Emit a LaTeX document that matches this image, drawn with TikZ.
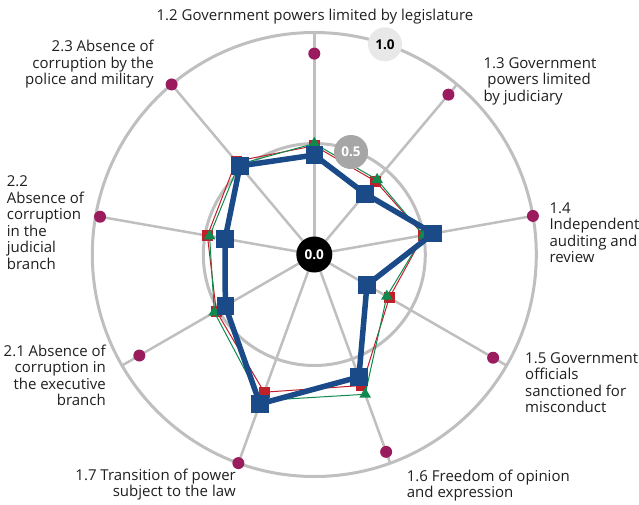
\documentclass[tikz,border=0pt]{standalone}
\usepackage{fontspec}
\setmainfont{Open Sans}
\usetikzlibrary{shapes.geometric}
\definecolor{gridc}{HTML}{BFBFBF}
\definecolor{dotc}{HTML}{9B1B5F}
\definecolor{blues}{HTML}{1A4A87}
\definecolor{reds}{HTML}{C11F2A}
\definecolor{greens}{HTML}{0F8A4F}
\definecolor{txt}{HTML}{1F1F1F}
\definecolor{midc}{HTML}{A6A6A6}
\definecolor{lightc}{HTML}{E8E8E8}
\newcommand{\lblfont}{\fontsize{15}{16.5}\selectfont}
\begin{document}
\begin{tikzpicture}[x=1pt,y=1pt,
  ringline/.style={draw=gridc, line width=3pt},
  gridline/.style={draw=gridc, line width=2.5pt},
  dotn/.style={circle, fill=dotc, inner sep=0pt, minimum size=12pt},
  bsq/.style={rectangle, fill=blues, inner sep=0pt, minimum size=17.5pt},
  rsq/.style={rectangle, fill=reds, inner sep=0pt, minimum size=11pt},
  gtri/.style={regular polygon, regular polygon sides=3, fill=greens, inner sep=0pt, minimum size=13.5pt},
  bline/.style={draw=blues, line width=5.5pt, line join=round},
  rline/.style={draw=reds, line width=1pt},
  gline/.style={draw=greens, line width=1pt},
  lblL/.style={anchor=base west, inner sep=0pt, text=txt, font=\lblfont},
  lblR/.style={anchor=base east, inner sep=0pt, text=txt, font=\lblfont},
  valc/.style={circle, inner sep=0pt, minimum size=34pt, font=\fontsize{13.5}{13.5}\selectfont\bfseries}
]
\useasboundingbox (0,-504) rectangle (639,0);
\coordinate (O) at (314.3,-254.5);
% rings
\draw[ringline] (O) circle[radius=222];
\draw[ringline] (O) circle[radius=111];
% axes
\foreach \a [count=\i] in {90,50,10,-30,-70,-110,-150,170,130} {
  \coordinate (e\i) at ([shift={(\a:222)}]O);
}
\foreach \i in {1,...,9} { \draw[gridline] (O) -- (e\i); }
% purple dots
\foreach \a/\v [count=\i] in {90/0.905,50/0.94,10/1.0,-30/0.93,-70/0.946,-110/1.0,-150/0.91,170/0.98,130/1.0} {
  \node[dotn] (d\i) at ([shift={(\a:{222*\v})}]O) {};
}
% series coordinates
\foreach \a/\r/\g/\b [count=\i] in {
  90/0.49/0.50/0.448,
  50/0.43/0.44/0.357,
  10/0.50/0.50/0.544,
  -30/0.39/0.377/0.274,
  -70/0.628/0.67/0.587,
  -110/0.66/0.70/0.716,
  -150/0.51/0.52/0.463,
  170/0.489/0.479/0.408,
  130/0.548/0.53/0.521} {
  \coordinate (r\i) at ([shift={(\a:{222*\r})}]O);
  \coordinate (g\i) at ([shift={(\a:{222*\g})}]O);
  \coordinate (b\i) at ([shift={(\a:{222*\b})}]O);
}
% red series
\draw[rline] (r1) -- (r2) -- (r3) -- (r4) -- (r5) -- (r6) -- (r7) -- (r8) -- (r9) -- cycle;
\foreach \i in {1,...,9} { \node[rsq] (rm\i) at (r\i) {}; }
% green series
\draw[gline] (g1) -- (g2) -- (g3) -- (g4) -- (g5) -- (g6) -- (g7) -- (g8) -- (g9) -- cycle;
\foreach \i in {1,...,9} { \node[gtri] (gm\i) at (g\i) {}; }
% blue series
\draw[bline] (b1) -- (b2) -- (b3) -- (b4) -- (b5) -- (b6) -- (b7) -- (b8) -- (b9) -- cycle;
\foreach \i in {1,...,9} { \node[bsq] (bm\i) at (b\i) {}; }
% value markers
\node[valc, fill=black, text=white, minimum size=36pt] (v0) at (O) {0.0};
\node[valc, fill=midc, text=white] (v05) at (351,-152) {0.5};
\node[valc, fill=lightc, text=black] (v1) at (385,-44.3) {1.0};
% labels
\node[anchor=base, inner sep=0pt, text=txt, font=\lblfont] (l12) at (315,-20.5) {1.2 Government powers limited by legislature};
\node[lblL] (l13) at (483.3,-68.3) {\begin{tabular}[t]{@{}l@{}}1.3 Government\\ \ powers limited\\ by judiciary\end{tabular}};
\node[lblL] (l14) at (549.3,-213.3) {\begin{tabular}[t]{@{}l@{}}1.4\\ Independent\\ auditing and\\ review\end{tabular}};
\node[lblL] (l15) at (525,-363.3) {\begin{tabular}[t]{@{}l@{}}1.5 Government\\ officials\\ sanctioned for\\ misconduct\end{tabular}};
\node[lblL] (l16) at (406.7,-481) {\begin{tabular}[t]{@{}l@{}}1.6 Freedom of opinion\\ and expression\end{tabular}};
\node[lblR] (l17) at (236,-480) {\begin{tabular}[t]{@{}r@{}}1.7 Transition of power\\ subject to the law\end{tabular}};
\node[lblR] (l21) at (106,-356) {\begin{tabular}[t]{@{}r@{}}2.1 Absence of\\ corruption in\\ the executive\\ branch\end{tabular}};
\node[lblL] (l22) at (6.7,-186.7) {\begin{tabular}[t]{@{}l@{}}2.2\\ Absence of\\ corruption\\ in the\\ judicial\\ branch\end{tabular}};
\node[lblR] (l23) at (154,-51.5) {\begin{tabular}[t]{@{}r@{}}2.3 Absence of\\ corruption by the\\ police and military\end{tabular}};
\end{tikzpicture}
\end{document}
